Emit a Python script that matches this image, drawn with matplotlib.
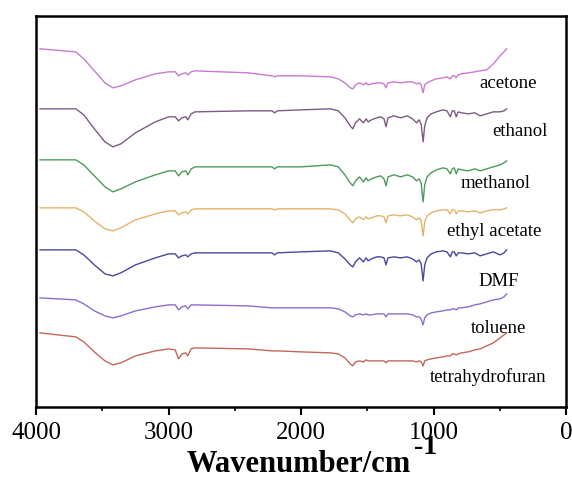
import matplotlib
matplotlib.use('Agg')
import matplotlib.pyplot as plt
from matplotlib.ticker import MultipleLocator

# wavenumbers (cm-1) shared by every spectrum
wavenumber = [3970, 3700, 3640, 3560, 3480, 3420, 3360, 3250, 3100, 3000,
              2950, 2925, 2900, 2870, 2855, 2830, 2800, 2400, 2220, 2200,
              2180, 2000, 1780, 1720, 1670, 1630, 1610, 1590, 1560, 1530,
              1510, 1495, 1470, 1430, 1400, 1375, 1360, 1345, 1300, 1250,
              1200, 1160, 1130, 1110, 1095, 1080, 1068, 1050, 1020, 980,
              930, 900, 875, 860, 845, 830, 815, 790, 740, 690,
              650, 600, 550, 500, 470, 450]

# transmittance (a.u., stacked with offsets as in the figure)
acetone = [350, 347, 340, 328, 316, 311, 313, 319, 325, 327,
           327, 323, 325, 326, 324, 327, 328, 326, 323, 322,
           323, 323, 322, 320, 316, 311, 310, 314, 316, 314,
           316, 314, 315, 316, 316, 315, 311, 316, 317, 316,
           317, 317, 315, 316, 314, 306, 314, 316, 318, 320,
           321, 322, 320, 323, 323, 321, 324, 325, 326, 327,
           328, 329, 335, 343, 347, 350]
ethanol = [290, 290, 284, 270, 257, 252, 255, 266, 277, 282,
           282, 278, 281, 282, 279, 285, 287, 288, 288, 286,
           288, 289, 290, 288, 281, 273, 270, 276, 280, 276,
           280, 277, 279, 281, 282, 280, 272, 281, 283, 281,
           283, 280, 276, 279, 275, 257, 273, 281, 285, 287,
           289, 288, 282, 288, 288, 282, 287, 286, 285, 286,
           283, 285, 287, 287, 288, 290]
methanol = [239, 239, 234, 223, 212, 207, 210, 217, 224, 228,
            228, 223, 227, 228, 224, 230, 232, 232, 232, 230,
            232, 232, 234, 232, 224, 216, 213, 218, 222, 217,
            221, 218, 220, 222, 223, 220, 213, 222, 224, 222,
            224, 222, 218, 220, 216, 197, 214, 222, 226, 229,
            231, 230, 225, 230, 231, 225, 230, 229, 228, 230,
            228, 230, 232, 234, 236, 238]
ethyl_acetate = [191, 191, 187, 178, 170, 168, 171, 179, 185, 188,
                 188, 184, 186, 187, 185, 189, 190, 190, 190, 189,
                 190, 190, 190, 189, 185, 179, 176, 180, 182, 179,
                 182, 180, 181, 183, 183, 182, 176, 183, 184, 183,
                 184, 182, 179, 181, 178, 163, 177, 183, 186, 188,
                 189, 189, 185, 189, 189, 185, 188, 188, 187, 188,
                 186, 188, 189, 189, 190, 191]
dmf = [149, 149, 144, 134, 125, 123, 126, 134, 141, 145,
       145, 141, 143, 144, 142, 145, 146, 146, 146, 144,
       146, 147, 148, 146, 140, 134, 132, 137, 141, 137,
       141, 138, 140, 142, 142, 141, 134, 141, 142, 141,
       142, 140, 137, 139, 135, 118, 134, 141, 145, 147,
       148, 147, 142, 147, 147, 143, 146, 146, 145, 146,
       143, 145, 147, 144, 146, 149]
toluene = [101, 99, 95, 88, 83, 81, 83, 88, 92, 94,
           94, 89, 92, 93, 90, 94, 94, 93, 91, 91,
           91, 91, 91, 90, 87, 83, 82, 84, 85, 84,
           85, 84, 84, 85, 85, 85, 82, 85, 85, 85,
           85, 84, 82, 82, 80, 74, 81, 84, 86, 87,
           88, 89, 89, 90, 90, 89, 91, 91, 92, 94,
           95, 97, 99, 100, 102, 105]
thf = [66, 62, 57, 47, 38, 34, 36, 43, 48, 50,
       49, 40, 45, 46, 43, 50, 51, 50, 48, 48,
       48, 47, 46, 45, 41, 35, 33, 37, 38, 37,
       39, 38, 38, 38, 38, 38, 36, 38, 38, 38,
       38, 38, 37, 38, 37, 33, 38, 39, 40, 41,
       42, 43, 43, 45, 45, 44, 45, 46, 47, 49,
       50, 53, 56, 61, 64, 66]

names = ['acetone', 'ethanol', 'methanol', 'ethyl acetate', 'DMF', 'toluene', 'tetrahydrofuran']
spectra = [acetone, ethanol, methanol, ethyl_acetate, dmf, toluene, thf]
colors = ['#c97ad2', '#7d5a86', '#4f9a5b', '#e2b46a', '#4848a0', '#8a6fcc', '#c4665c']
# where each name sits (wavenumber of right edge, transmittance)
label_x = [220, 140, 270, 190, 360, 300, 150]
label_y = [316, 268, 216, 168, 118, 71, 23]

plt.rcParams['font.family'] = ['Liberation Serif', 'DejaVu Serif']

fig = plt.figure(figsize=(5.72, 4.81), dpi=100)
ax = fig.add_axes([0.063, 0.152, 0.927, 0.813])

for spec, col in zip(spectra, colors):
    ax.plot(wavenumber, spec, color=col, lw=1.0)

for name, lx, ly in zip(names, label_x, label_y):
    ax.text(lx, ly, name, ha='right', va='center', fontsize=13.5)

ax.set_xlim(4000, 0)
ax.set_ylim(-8, 383)
ax.xaxis.set_major_locator(MultipleLocator(1000))
ax.xaxis.set_minor_locator(MultipleLocator(500))
ax.tick_params(axis='x', which='major', direction='out', length=6, width=1.5,
               labelsize=18, pad=4)
ax.tick_params(axis='x', which='minor', direction='out', length=3, width=1.2)
ax.set_yticks([])
for sp in ax.spines.values():
    sp.set_linewidth(1.8)

fig.text(0.522, 0.018, 'Wavenumber/cm', ha='center', va='baseline',
         fontsize=22, fontweight='bold')
fig.text(0.724, 0.056, '-1', ha='left', va='baseline', fontsize=20, fontweight='bold')

fig.savefig('out.png', dpi=100)
